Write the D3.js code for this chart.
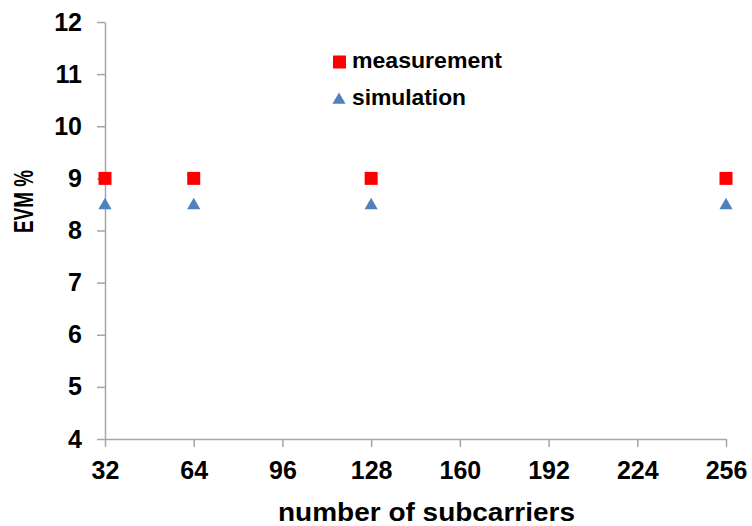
<!DOCTYPE html>
<html><head><meta charset="utf-8">
<script src="https://cdn.jsdelivr.net/npm/d3@7"></script>
<style>body{margin:0;background:#fff}text{font-family:"Liberation Sans",Arial,sans-serif;font-weight:bold;fill:#000}</style>
</head><body>
<svg id="c" width="752" height="526"></svg>
<script>
const subcarriers = [32, 64, 128, 256];
const measurement = [9, 9, 9, 9];
const simulation = [8.5, 8.5, 8.5, 8.5];
const xTicks = [32, 64, 96, 128, 160, 192, 224, 256];
const yTicks = [4, 5, 6, 7, 8, 9, 10, 11, 12];
const seriesNames = ["measurement", "simulation"];

const svg = d3.select("#c");
const x = d3.scaleLinear().domain([32, 256]).range([105, 726]);
const y = d3.scaleLinear().domain([4, 12]).range([439, 22]);
const axisColor = "#a6a6a6";

const xAxis = svg.append("g").attr("transform", "translate(0,439)")
  .call(d3.axisBottom(x).tickValues(xTicks).tickSize(8).tickSizeOuter(0).tickPadding(14));
const yAxis = svg.append("g").attr("transform", "translate(105,0)")
  .call(d3.axisLeft(y).tickValues(yTicks).tickSize(8).tickSizeOuter(0).tickPadding(15));
[xAxis, yAxis].forEach(g => {
  g.select(".domain").attr("stroke", axisColor).attr("stroke-width", 1.5);
  g.selectAll(".tick line").attr("stroke", axisColor).attr("stroke-width", 1.5);
  g.selectAll(".tick text").attr("font-size", 25).attr("font-family", "Liberation Sans, Arial, sans-serif").attr("font-weight", "bold").attr("fill", "#000");
});
xAxis.selectAll(".tick text").attr("dy", "0.71em");

svg.append("g").selectAll("rect").data(subcarriers).join("rect")
  .attr("x", (d) => x(d) - 6.5).attr("y", (d, i) => y(measurement[i]) - 6.5)
  .attr("width", 13).attr("height", 13).attr("fill", "#ff0000");

const tri = d3.symbol().type(d3.symbolTriangle).size(75);
svg.append("g").selectAll("path").data(subcarriers).join("path")
  .attr("d", tri)
  .attr("transform", (d, i) => `translate(${x(d)},${y(simulation[i]) + 1})`)
  .attr("fill", "#4f81bd");

// legend
svg.append("rect").attr("x", 333).attr("y", 55.5).attr("width", 13).attr("height", 13).attr("fill", "#ff0000");
svg.append("text").attr("x", 352).attr("y", 68).attr("font-size", 22).attr("textLength", 150).attr("lengthAdjust", "spacingAndGlyphs").text(seriesNames[0]);
svg.append("path").attr("d", tri).attr("transform", "translate(339,100)").attr("fill", "#4f81bd");
svg.append("text").attr("x", 352).attr("y", 105).attr("font-size", 22).attr("textLength", 114).attr("lengthAdjust", "spacingAndGlyphs").text(seriesNames[1]);

// axis titles
svg.append("text").attr("text-anchor", "middle").attr("x", 426.5).attr("y", 521)
  .attr("font-size", 25).attr("textLength", 297).attr("lengthAdjust", "spacingAndGlyphs").text("number of subcarriers");
svg.append("text").attr("text-anchor", "middle").attr("transform", "translate(32.5,201.5) rotate(-90)")
  .attr("font-size", 27).attr("textLength", 63).attr("lengthAdjust", "spacingAndGlyphs").text("EVM %");
</script>
</body></html>
